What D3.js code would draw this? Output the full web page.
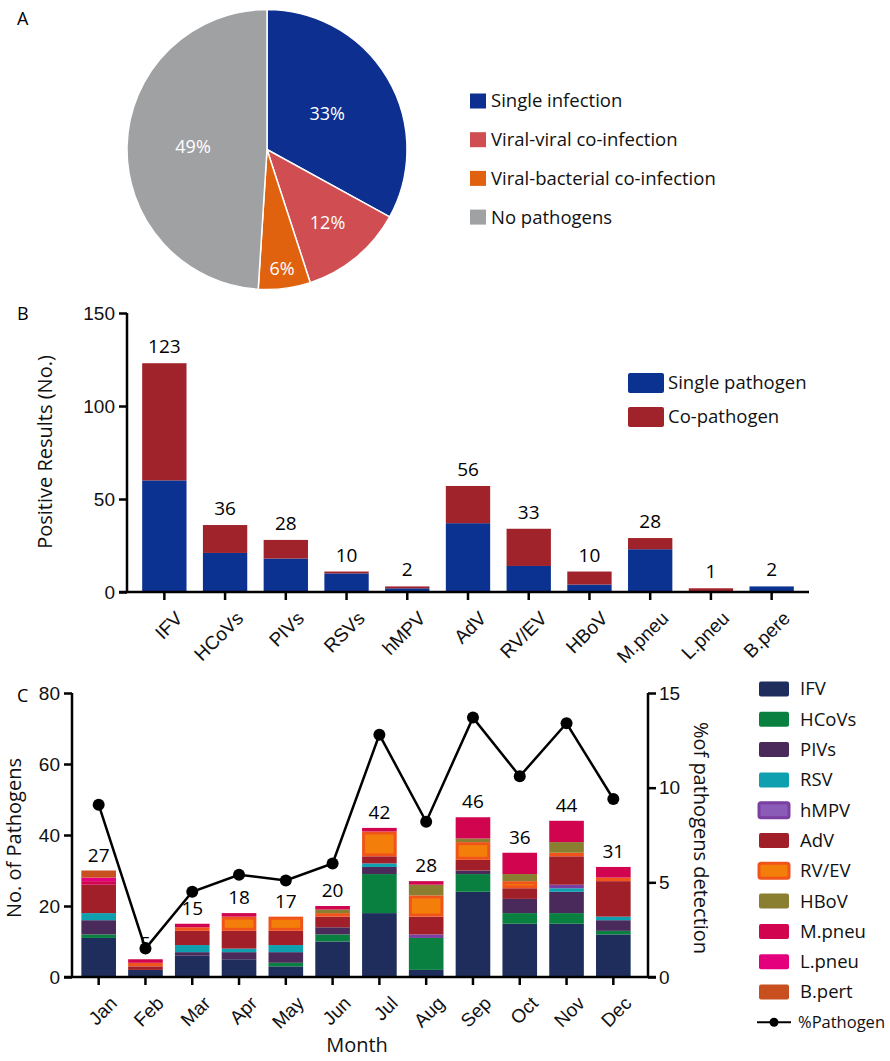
<!DOCTYPE html>
<meta charset="utf-8">
<style>
body { margin: 0; background: #fff; }
svg { font-family: "Open Sans", "DejaVu Sans", sans-serif; }
.axis path, .axis line { stroke: #000; stroke-width: 2.5; }
.axis text { font-size: 19px; fill: #111; }
.panel-label { font-size: 18px; }
.legend text { font-size: 18.5px; fill: #111; }
.title { font-size: 20px; fill: #111; }
</style>
<body>
<script src="https://cdn.jsdelivr.net/npm/d3@7"></script>
<script>

// ---- panel A data
var pieNames = ['Single infection', 'Viral-viral co-infection', 'Viral-bacterial co-infection', 'No pathogens'];
var pieValues = [33, 12, 6, 49];
var pieColors = ['#0d2f8f', '#d04d51', '#e0620f', '#a0a1a3'];

// ---- panel B data
var pathogens = ['IFV', 'HCoVs', 'PIVs', 'RSVs', 'hMPV', 'AdV', 'RV/EV', 'HBoV', 'M.pneu', 'L.pneu', 'B.pere'];
var singleVals = [60, 21, 18, 10, 2, 37, 14, 4, 23, 0, 3];
var coVals = [63, 15, 10, 1, 1, 20, 20, 7, 6, 2, 0];
var totalLabels = [123, 36, 28, 10, 2, 56, 33, 10, 28, 1, 2];

// ---- panel C data
var months = ['Jan', 'Feb', 'Mar', 'Apr', 'May', 'Jun', 'Jul', 'Aug', 'Sep', 'Oct', 'Nov', 'Dec'];
var seriesC = ['IFV', 'HCoVs', 'PIVs', 'RSV', 'hMPV', 'AdV', 'RV/EV', 'HBoV', 'M.pneu', 'L.pneu', 'B.pert'];
var monthIFV    = [11, 2, 6, 5, 3, 10, 18, 2, 24, 15, 15, 12];
var monthHCoVs  = [1, 0, 0, 0, 1, 2, 11, 9, 5, 3, 3, 1];
var monthPIVs   = [4, 0, 1, 2, 3, 2, 2, 0, 1, 4, 6, 3];
var monthRSV    = [2, 0, 2, 1, 2, 0, 1, 0, 0, 0, 1, 1];
var monthHMPV   = [0, 0, 0, 0, 0, 0, 0, 1, 0, 0, 1, 0];
var monthAdV    = [8, 1, 4, 5, 4, 3, 2, 5, 3, 3, 8, 10];
var monthRVEV   = [0, 1, 1, 4, 4, 1, 7, 6, 5, 2, 1, 1];
var monthHBoV   = [0, 0, 0, 0, 0, 1, 0, 3, 1, 2, 3, 0];
var monthMpneu  = [1, 1, 1, 1, 0, 1, 1, 1, 6, 6, 6, 3];
var monthLpneu  = [1, 0, 0, 0, 0, 0, 0, 0, 0, 0, 0, 0];
var monthBpert  = [2, 0, 0, 0, 0, 0, 0, 0, 0, 0, 0, 0];
var monthTotals = [27, 5, 15, 18, 17, 20, 42, 28, 46, 36, 44, 31];
var pctDetect   = [9.1, 1.5, 4.5, 5.4, 5.1, 6.0, 12.8, 8.2, 13.7, 10.6, 13.4, 9.4];

var colorsC = ['#1f2d5c', '#0a8040', '#4a2a5a', '#0fa0b0', '#8a5cb8', '#a01f28', '#f37e0a', '#8a7f30', '#d0044f', '#e4007c', '#c8501e'];
var strokeC = {'hMPV': '#7a3fa0', 'RV/EV': '#f0541a'};

var svg = d3.select('body').append('svg')
    .attr('width', 890)
    .attr('height', 1061);

// ================= Panel A =================
svg.append('text').attr('class', 'panel-label').attr('x', 17).attr('y', 25).text('A');

var pieG = svg.append('g').attr('transform', 'translate(267,149.5)');
var pie = d3.pie().sort(null).value(function(d){ return d; });
var arcA = d3.arc().innerRadius(0).outerRadius(140);
var labelR = [70, 95, 120, 74];

var slices = pie(pieValues);
pieG.selectAll('path')
    .data(slices).enter()
    .append('path')
    .attr('d', arcA)
    .attr('fill', function(d, i){ return pieColors[i]; })
    .attr('stroke', '#fff')
    .attr('stroke-width', 1.5);

pieG.selectAll('text')
    .data(slices).enter()
    .append('text')
    .attr('text-anchor', 'middle')
    .attr('dy', '0.35em')
    .attr('fill', '#fff')
    .style('font-size', '18px')
    .attr('transform', function(d, i){
        var a = (d.startAngle + d.endAngle) / 2;
        return 'translate(' + (labelR[i] * Math.sin(a)) + ',' + (-labelR[i] * Math.cos(a)) + ')';
    })
    .text(function(d){ return d.value + '%'; });

var legA = svg.append('g').attr('class', 'legend');
pieNames.forEach(function(n, i){
    var y = 101 + i * 38.7;
    legA.append('rect').attr('x', 470).attr('y', y - 7.5).attr('width', 16).attr('height', 15).attr('fill', pieColors[i]);
    legA.append('text').attr('x', 491).attr('y', y).attr('dy', '0.35em').text(n);
});

// ================= Panel B =================
svg.append('text').attr('class', 'panel-label').attr('x', 17).attr('y', 320).text('B');

var xB = d3.scaleBand().domain(pathogens).range([127, 809]).paddingInner(0.27).paddingOuter(0.25);
var yB = d3.scaleLinear().domain([0, 150]).range([592, 313]);

var gB = svg.append('g');
var stackB = pathogens.map(function(p, i){ return {name: p, single: singleVals[i], co: coVals[i]}; });
var layersB = d3.stack().keys(['single', 'co'])(stackB);
var colB = {single: '#0c3291', co: '#a0222a'};

gB.selectAll('g.layer')
    .data(layersB).enter()
    .append('g').attr('class', 'layer')
    .attr('fill', function(d){ return colB[d.key]; })
    .selectAll('rect')
    .data(function(d){ return d; }).enter()
    .append('rect')
    .attr('x', function(d){ return xB(d.data.name); })
    .attr('width', xB.bandwidth())
    .attr('y', function(d){ return yB(d[1]); })
    .attr('height', function(d){ return yB(d[0]) - yB(d[1]); });

gB.selectAll('text.total')
    .data(pathogens).enter()
    .append('text')
    .attr('class', 'total')
    .attr('text-anchor', 'middle')
    .style('font-size', '19px')
    .attr('x', function(d){ return xB(d) + xB.bandwidth() / 2; })
    .attr('y', function(d, i){ return yB(Math.max(totalLabels[i], singleVals[i] + coVals[i])) - 10; })
    .text(function(d, i){ return totalLabels[i]; });

var yAxisB = svg.append('g').attr('class', 'axis')
    .attr('transform', 'translate(127,0)')
    .call(d3.axisLeft(yB).tickValues([0, 50, 100, 150]).tickSize(8).tickSizeOuter(0).tickPadding(4));
yAxisB.select('.domain').attr('d', 'M0,' + yB(150) + 'V' + yB(0));

var xAxisB = svg.append('g').attr('class', 'axis')
    .attr('transform', 'translate(0,592)')
    .call(d3.axisBottom(xB).tickSize(8).tickSizeOuter(0));
xAxisB.select('.domain').attr('d', 'M119,0H809');
xAxisB.selectAll('text')
    .attr('text-anchor', 'end')
    .attr('dy', '0.35em')
    .attr('transform', 'translate(7,15) rotate(-45)');

svg.append('text')
    .attr('class', 'title')
    .attr('transform', 'translate(52,452) rotate(-90)')
    .attr('text-anchor', 'middle')
    .text('Positive Results (No.)');

var legB = svg.append('g').attr('class', 'legend');
[['Single pathogen', colB.single], ['Co-pathogen', colB.co]].forEach(function(d, i){
    var y = 373 + i * 34;
    legB.append('rect').attr('x', 628).attr('y', y).attr('width', 36).attr('height', 20).attr('rx', 2).attr('fill', d[1]);
    legB.append('text').attr('x', 668).attr('y', y + 10).attr('dy', '0.35em').text(d[0]);
});

// ================= Panel C =================
svg.append('text').attr('class', 'panel-label').attr('x', 17).attr('y', 702).text('C');

var xC = d3.scaleBand().domain(months).range([72, 640]).paddingInner(0.26).paddingOuter(0.2);
var yC = d3.scaleLinear().domain([0, 80]).range([977, 693]);
var yP = d3.scaleLinear().domain([0, 15]).range([977, 693]);

var colsC = [monthIFV, monthHCoVs, monthPIVs, monthRSV, monthHMPV, monthAdV, monthRVEV, monthHBoV, monthMpneu, monthLpneu, monthBpert];
var rowsC = months.map(function(m, j){
    var r = {month: m};
    seriesC.forEach(function(s, k){ r[s] = colsC[k][j]; });
    return r;
});
var layersC = d3.stack().keys(seriesC)(rowsC);

var gC = svg.append('g');
gC.selectAll('g.layer')
    .data(layersC).enter()
    .append('g').attr('class', 'layer')
    .each(function(layer, k){
        var hasStroke = strokeC[layer.key];
        d3.select(this).selectAll('rect')
            .data(layer.filter(function(d){ return d[1] > d[0]; })).enter()
            .append('rect')
            .attr('x', function(d){ return xC(d.data.month) + (hasStroke ? 1.5 : 0); })
            .attr('width', xC.bandwidth() - (hasStroke ? 3 : 0))
            .attr('y', function(d){ return yC(d[1]) + (hasStroke ? 1.5 : 0); })
            .attr('height', function(d){ return Math.max(0, yC(d[0]) - yC(d[1]) - (hasStroke ? 3 : 0)); })
            .attr('fill', colorsC[k])
            .attr('stroke', hasStroke ? strokeC[layer.key] : 'none')
            .attr('stroke-width', hasStroke ? 3 : 0);
    });

gC.selectAll('text.total')
    .data(months).enter()
    .append('text')
    .attr('class', 'total')
    .attr('text-anchor', 'middle')
    .style('font-size', '19px')
    .attr('x', function(d){ return xC(d) + xC.bandwidth() / 2; })
    .attr('y', function(d, j){
        var top = layersC[layersC.length - 1][j][1];
        return yC(top) - 9;
    })
    .text(function(d, j){ return monthTotals[j]; });

// % line
var lineP = d3.line()
    .x(function(d, j){ return xC(months[j]) + xC.bandwidth() / 2; })
    .y(function(d){ return yP(d); });
gC.append('path')
    .datum(pctDetect)
    .attr('d', lineP)
    .attr('fill', 'none')
    .attr('stroke', '#000')
    .attr('stroke-width', 2.5);
gC.selectAll('circle')
    .data(pctDetect).enter()
    .append('circle')
    .attr('cx', function(d, j){ return xC(months[j]) + xC.bandwidth() / 2; })
    .attr('cy', function(d){ return yP(d); })
    .attr('r', 6)
    .attr('fill', '#000');

var yAxisC = svg.append('g').attr('class', 'axis')
    .attr('transform', 'translate(72,0)')
    .call(d3.axisLeft(yC).tickValues([0, 20, 40, 60, 80]).tickSize(8).tickSizeOuter(0).tickPadding(4));
yAxisC.select('.domain').attr('d', 'M0,' + yC(80) + 'V' + yC(0));

var yAxisP = svg.append('g').attr('class', 'axis')
    .attr('transform', 'translate(648,0)')
    .call(d3.axisRight(yP).tickValues([0, 5, 10, 15]).tickSize(8).tickSizeOuter(0).tickPadding(3));
yAxisP.select('.domain').attr('d', 'M0,' + yP(15) + 'V' + yP(0));

var xAxisC = svg.append('g').attr('class', 'axis')
    .attr('transform', 'translate(0,977)')
    .call(d3.axisBottom(xC).tickSize(8).tickSizeOuter(0));
xAxisC.select('.domain').attr('d', 'M64,0H656');
xAxisC.selectAll('text')
    .attr('text-anchor', 'end')
    .attr('dy', '0.35em')
    .attr('transform', 'translate(7,15) rotate(-45)');

svg.append('text')
    .attr('class', 'title')
    .attr('transform', 'translate(21,838) rotate(-90)')
    .attr('text-anchor', 'middle')
    .text('No. of Pathogens');

svg.append('text')
    .attr('class', 'title')
    .attr('transform', 'translate(694,838) rotate(90)')
    .attr('text-anchor', 'middle')
    .text('%of pathogens detection');

svg.append('text')
    .attr('class', 'title')
    .attr('x', 357).attr('y', 1052)
    .attr('text-anchor', 'middle')
    .text('Month');

var legC = svg.append('g').attr('class', 'legend');
seriesC.forEach(function(s, k){
    var y = 689 + k * 30.3;
    legC.append('rect')
        .attr('x', 759).attr('y', y - 7.5).attr('width', 30).attr('height', 15).attr('rx', 2)
        .attr('fill', colorsC[k])
        .attr('stroke', strokeC[s] || 'none')
        .attr('stroke-width', strokeC[s] ? 3 : 0);
    legC.append('text').attr('x', 800).attr('y', y).attr('dy', '0.35em').text(s);
});
var yLine = 689 + 11 * 30.3;
legC.append('line').attr('x1', 757).attr('x2', 791).attr('y1', yLine).attr('y2', yLine).attr('stroke', '#000').attr('stroke-width', 2);
legC.append('circle').attr('cx', 774).attr('cy', yLine).attr('r', 4.5).attr('fill', '#000');
legC.append('text').attr('x', 798).attr('y', yLine).attr('dy', '0.35em')
    .style('font-size', '16.5px')
    .text('%Pathogen');

</script>
